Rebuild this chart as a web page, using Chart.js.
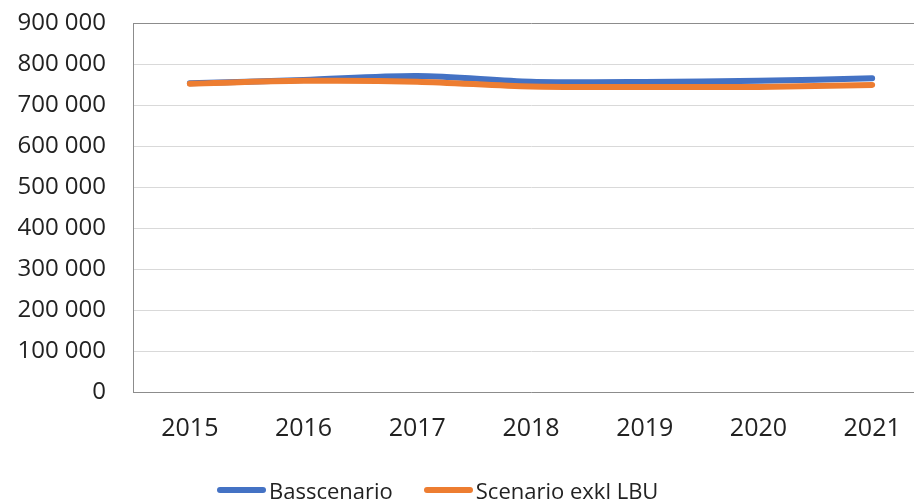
<!DOCTYPE html>
<html>
<head>
<meta charset="utf-8">
<script src="https://cdn.jsdelivr.net/npm/chart.js@4/dist/chart.umd.min.js"></script>
<style>
  html, body { margin: 0; padding: 0; background: #fff; overflow: hidden; }
  #wrap { position: relative; width: 914px; height: 499px; overflow: hidden; }
  #chart { position: absolute; left: 0; top: 0; }
  #legende { position: absolute; left: 217px; top: 475px; height: 30px; display: flex; align-items: center;
    font-family: "Open Sans", sans-serif; font-size: 22px; color: #222; white-space: nowrap; }
  .item { display: flex; align-items: center; margin-right: 31px; }
  .trait { width: 49px; height: 6px; border-radius: 3px; margin-right: 3px; }
</style>
</head>
<body>
<div id="wrap">
  <canvas id="chart" width="930" height="499"></canvas>
  <div id="legende"></div>
</div>
<script>
// ---- Données ----
const annees = ["2015", "2016", "2017", "2018", "2019", "2020", "2021"];
const basscenario = [753000, 761000, 771000, 757000, 756000, 759000, 765000];
const exklLBU = [752000, 759000, 757000, 745000, 744000, 744000, 749000];
const ticksY = [0, 100000, 200000, 300000, 400000, 500000, 600000, 700000, 800000, 900000];

const bleu = "#4472C4";
const orange = "#ED7D31";

function formatNombre(v) {
  return String(v).replace(/\B(?=(\d{3})+(?!\d))/g, " ");
}

const graphique = new Chart(document.getElementById("chart"), {
  type: "line",
  data: {
    labels: annees,
    datasets: [
      { label: "Basscenario", data: basscenario, borderColor: bleu, backgroundColor: bleu,
        borderWidth: 6, pointRadius: 0, tension: 0.3, borderCapStyle: "round", order: 1 },
      { label: "Scenario exkl LBU", data: exklLBU, borderColor: orange, backgroundColor: orange,
        borderWidth: 6, pointRadius: 0, tension: 0.3, borderCapStyle: "round", order: 0 }
    ]
  },
  options: {
    responsive: false,
    animation: false,
    layout: { padding: { top: 23, right: 1, bottom: 0, left: 0 } },
    plugins: { legend: { display: false }, tooltip: { enabled: false } },
    scales: {
      x: {
        offset: true,
        grid: { display: false, drawTicks: false },
        border: { color: "#8c8c8c", width: 1 },
        ticks: { padding: 22, color: "#222", font: { family: "Open Sans", size: 25 } },
        afterFit: s => { s.height = 107; s.paddingLeft = 0; s.paddingRight = 0; }
      },
      y: {
        min: 0,
        max: 900000,
        afterBuildTicks: s => { s.ticks = ticksY.map(v => ({ value: v })); },
        grid: {
          drawTicks: false,
          color: c => (c.tick && c.tick.value === 900000) ? "#8c8c8c" : "#d9d9d9",
          lineWidth: 1
        },
        border: { color: "#8c8c8c", width: 1 },
        ticks: { padding: 27, color: "#222", font: { family: "Open Sans", size: 24 },
          callback: v => formatNombre(v) },
        afterFit: s => { s.width = 133; s.paddingTop = 0; s.paddingBottom = 0; }
      }
    }
  }
});

// ---- Légende ----
const legende = document.getElementById("legende");
graphique.data.datasets.forEach(d => {
  const item = document.createElement("div");
  item.className = "item";
  const trait = document.createElement("span");
  trait.className = "trait";
  trait.style.background = d.borderColor;
  const texte = document.createElement("span");
  texte.textContent = d.label;
  item.appendChild(trait);
  item.appendChild(texte);
  legende.appendChild(item);
});
</script>
</body>
</html>
